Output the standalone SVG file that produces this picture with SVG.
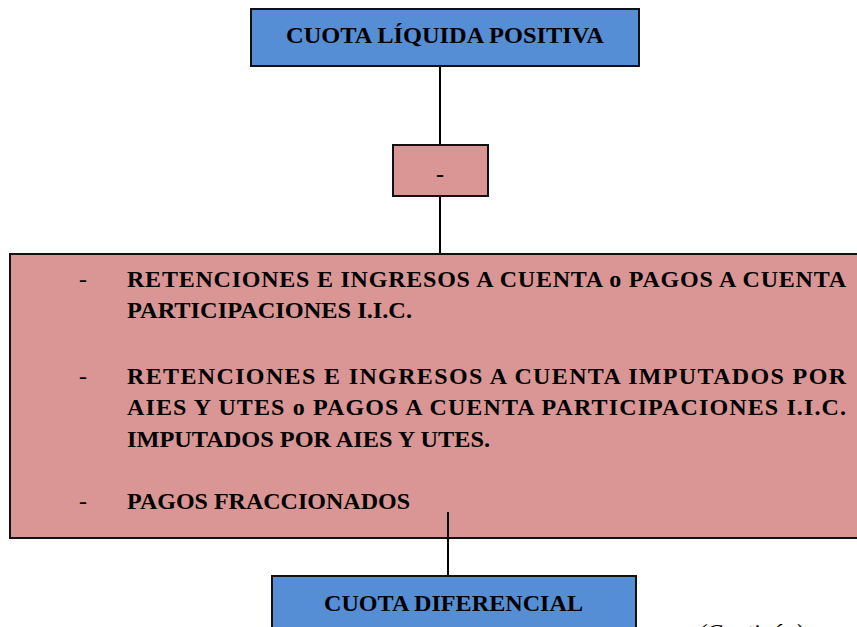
<svg xmlns="http://www.w3.org/2000/svg" width="857" height="627" viewBox="0 0 857 627">
<style>
.blue{fill:#558ED5;stroke:#111;stroke-width:2}
.pink{fill:#D99694;stroke:#111;stroke-width:2}
.t{font-family:"Liberation Serif","Times New Roman",serif;font-weight:bold;font-size:24px;fill:#000}
.d{font-family:"Liberation Serif","Times New Roman",serif;font-size:24px;fill:#000}
.c{stroke:#000;stroke-width:2;fill:none}
</style>
<rect width="857" height="627" fill="#fff"/>
<g id="connectors">
<line class="c" x1="440" y1="66" x2="440" y2="145"/>
<line class="c" x1="440" y1="196" x2="440" y2="254"/>
<line class="c" x1="448" y1="538" x2="448" y2="576"/>
</g>
<g id="cuota-liquida">
<rect class="blue" x="251" y="9" width="388" height="57"/>
<text class="t" x="286" y="43" textLength="318" lengthAdjust="spacingAndGlyphs">CUOTA LÍQUIDA POSITIVA</text>
</g>
<g id="minus">
<rect class="pink" x="393" y="145" width="95" height="51"/>
<text class="t" x="440" y="182" text-anchor="middle">-</text>
</g>
<g id="deducciones">
<rect class="pink" x="10" y="254" width="860" height="284"/>
<line class="c" x1="448" y1="512" x2="448" y2="538"/>
<text class="d" x="79" y="287">-</text>
<text class="t" x="127" y="287" textLength="719" lengthAdjust="spacing">RETENCIONES E INGRESOS A CUENTA o PAGOS A CUENTA</text>
<text class="t" x="127" y="318" textLength="285" lengthAdjust="spacingAndGlyphs">PARTICIPACIONES I.I.C.</text>
<text class="d" x="79" y="384">-</text>
<text class="t" x="127" y="384" textLength="719" lengthAdjust="spacing">RETENCIONES E INGRESOS A CUENTA IMPUTADOS POR</text>
<text class="t" x="127" y="415" textLength="719" lengthAdjust="spacing">AIES Y UTES o PAGOS A CUENTA PARTICIPACIONES I.I.C.</text>
<text class="t" x="127" y="447" textLength="363" lengthAdjust="spacingAndGlyphs">IMPUTADOS POR AIES Y UTES.</text>
<text class="d" x="79" y="509">-</text>
<text class="t" x="127" y="509" textLength="283" lengthAdjust="spacingAndGlyphs">PAGOS FRACCIONADOS</text>
</g>
<g id="cuota-diferencial">
<rect class="blue" x="272" y="576" width="364" height="70"/>
<text class="t" x="324" y="611" textLength="259" lengthAdjust="spacingAndGlyphs">CUOTA DIFERENCIAL</text>
</g>
<text x="698" y="640" font-family="Liberation Serif, Times New Roman, serif" font-style="italic" font-size="24">(Continúa)</text>
</svg>
